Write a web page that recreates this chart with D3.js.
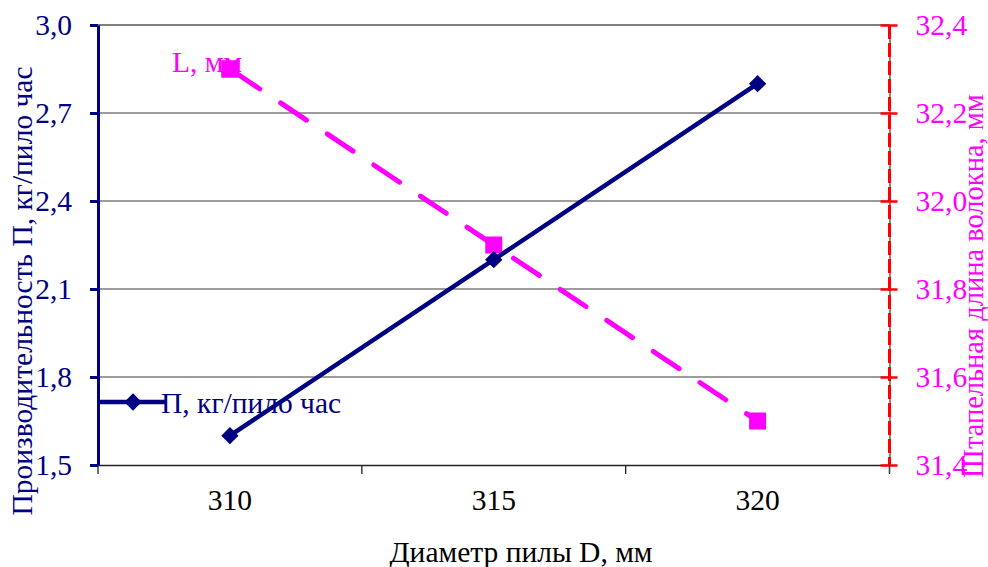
<!DOCTYPE html>
<html><head><meta charset="utf-8">
<script src="https://cdn.jsdelivr.net/npm/d3@7/dist/d3.min.js"></script>
<style>body{margin:0;background:#fff}svg{display:block}</style>
</head><body>
<svg id="c" width="988" height="567"></svg>
<script>
const categories = ["310", "315", "320"];
const seriesP = [1.6, 2.2, 2.8];
const seriesL = [32.3, 31.9, 31.5];
const leftTicks = [1.5, 1.8, 2.1, 2.4, 2.7, 3.0];
const rightTicks = [31.4, 31.6, 31.8, 32.0, 32.2, 32.4];
const labelP = "П, кг/пило час";
const labelL = "L, мм";
const titleX = "Диаметр пилы D, мм";
const titleLeft = "Производительность П, кг/пило час";
const titleRight = "Штапельная длина волокна, мм";

const svg = d3.select("#c");
const L = 98, R = 889.5, T = 25, B = 465;
const navy = "#000080", mag = "#FF00FF", red = "#FF0000";
const fs = "29.5px";
const FF = "'Liberation Serif', 'Times New Roman', 'DejaVu Serif', serif";
const fmt = v => d3.format(".1f")(v).replace(".", ",");
const styleText = (s, size) => s.style("font-family", FF).style("font-size", size || fs);

const x = d3.scaleBand().domain(categories).range([L, R]).padding(0);
const xc = c => x(c) + x.bandwidth() / 2;
const yL = d3.scaleLinear().domain([1.5, 3.0]).range([B, T]);
const yR = d3.scaleLinear().domain([31.4, 32.4]).range([B, T]);

// gridlines
svg.append("g").selectAll("line").data(leftTicks.filter(v => v > 1.5)).join("line")
  .attr("x1", L).attr("x2", R).attr("y1", d => yL(d)).attr("y2", d => yL(d))
  .attr("stroke", d => d === 3.0 ? "#808080" : "#3a3a3a")
  .attr("stroke-width", d => d === 3.0 ? 2 : 1.2);

// bottom axis
const gx = svg.append("g").attr("transform", `translate(0,${B})`)
  .call(d3.axisBottom(x).tickSize(0).tickPadding(45).tickSizeOuter(0));
gx.select(".domain").attr("stroke", "#222").attr("stroke-width", 1.3);
gx.selectAll("text").call(styleText).attr("fill", "#000").attr("dy", 0);
const bounds = categories.map(c => x(c)).concat([x.range()[1]]);
gx.append("g").selectAll("line").data(bounds).join("line")
  .attr("x1", d => d).attr("x2", d => d).attr("y1", 0).attr("y2", 9)
  .attr("stroke", "#222").attr("stroke-width", 1.3);

// left axis
const gl = svg.append("g").attr("transform", `translate(${L},0)`)
  .call(d3.axisLeft(yL).tickValues(leftTicks).tickFormat(fmt).tickSize(8).tickPadding(18).tickSizeOuter(0));
gl.select(".domain").attr("stroke", navy).attr("stroke-width", 3);
gl.selectAll(".tick line").attr("stroke", navy).attr("stroke-width", 3);
gl.selectAll("text").call(styleText).attr("fill", navy).attr("dy", "0.33em");

// right axis
const gr = svg.append("g").attr("transform", `translate(${R},0)`)
  .call(d3.axisRight(yR).tickValues(rightTicks).tickFormat(fmt).tickSize(8).tickPadding(18).tickSizeOuter(0));
gr.select(".domain").attr("stroke", "#888").attr("stroke-width", 2);
gr.append("line").attr("x1", 0).attr("x2", 0).attr("y1", T).attr("y2", B)
  .attr("stroke", red).attr("stroke-width", 3).attr("stroke-dasharray", "14,4");
gr.selectAll(".tick line").attr("x1", -9).attr("stroke", red).attr("stroke-width", 2.5);
gr.selectAll("text").call(styleText).attr("fill", mag).attr("dy", "0.33em");
gr.append("line").attr("x1", 0).attr("x2", 0).attr("y1", B).attr("y2", B + 8).attr("stroke", "#444").attr("stroke-width", 1.3);

// L series
const lineL = d3.line().x((d, i) => xc(categories[i])).y(d => yR(d));
svg.append("path").datum(seriesL).attr("d", lineL).attr("fill", "none")
  .attr("stroke", mag).attr("stroke-width", 5).attr("stroke-linecap", "round")
  .attr("stroke-dasharray", "31,25").attr("stroke-dashoffset", -5);
svg.append("g").selectAll("rect").data(seriesL).join("rect")
  .attr("x", (d, i) => xc(categories[i]) - 8.5).attr("y", d => yR(d) - 8.5)
  .attr("width", 17).attr("height", 17).attr("fill", mag);

// P series
const lineP = d3.line().x((d, i) => xc(categories[i])).y(d => yL(d));
svg.append("path").datum(seriesP).attr("d", lineP).attr("fill", "none")
  .attr("stroke", navy).attr("stroke-width", 4.5);
svg.append("g").selectAll("path").data(seriesP).join("path")
  .attr("transform", (d, i) => `translate(${xc(categories[i])},${yL(d)}) rotate(45)`)
  .attr("d", d3.symbol().type(d3.symbolSquare).size(150)).attr("fill", navy);

// legend P
svg.append("line").attr("x1", L).attr("x2", 165).attr("y1", 402).attr("y2", 402)
  .attr("stroke", navy).attr("stroke-width", 4.5);
svg.append("path").attr("transform", "translate(133,402) rotate(45)")
  .attr("d", d3.symbol().type(d3.symbolSquare).size(150)).attr("fill", navy);
svg.append("text").attr("x", 161).attr("y", 413).call(styleText).attr("fill", navy).text(labelP);

// legend L
svg.append("text").attr("x", 172).attr("y", 72).call(styleText).attr("fill", mag).text(labelL);
svg.append("rect").attr("x", xc(categories[0]) - 8.5).attr("y", yR(seriesL[0]) - 8.5)
  .attr("width", 17).attr("height", 17).attr("fill", mag);

// titles
svg.append("text").attr("x", 521).attr("y", 562).attr("text-anchor", "middle")
  .call(styleText).attr("fill", "#000").text(titleX);
svg.append("text").attr("transform", "translate(32,291) rotate(-90)").attr("text-anchor", "middle")
  .call(styleText).attr("fill", navy).text(titleLeft);
svg.append("text").attr("transform", "translate(983,286) rotate(-90)").attr("text-anchor", "middle")
  .call(styleText, "28.5px").attr("fill", mag).text(titleRight);
</script>
</body></html>
